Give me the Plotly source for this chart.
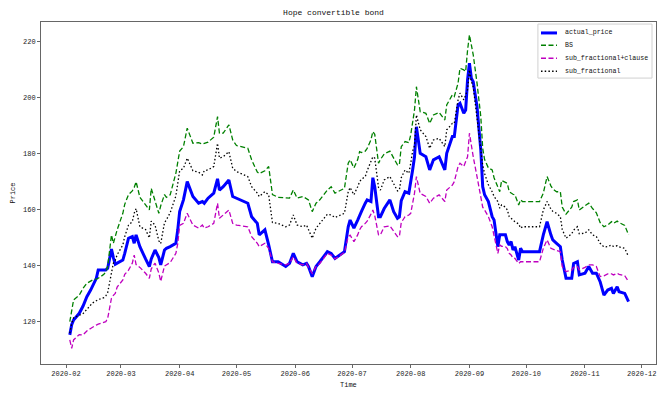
import plotly.graph_objects as go

title = "Hope convertible bond"
series_names = ["actual_price", "BS", "sub_fractional+clause", "sub_fractional"]

dates = [
    # Feb - Mar
    "2020-02-03", "2020-02-04", "2020-02-05", "2020-02-08", "2020-02-10", "2020-02-12", "2020-02-14",
    "2020-02-15", "2020-02-17", "2020-02-18", "2020-02-21", "2020-02-22", "2020-02-23", "2020-02-25",
    "2020-02-26", "2020-02-27", "2020-02-28", "2020-03-02", "2020-03-03", "2020-03-05", "2020-03-07",
    "2020-03-08", "2020-03-09", "2020-03-11", "2020-03-14", "2020-03-16", "2020-03-17", "2020-03-19",
    "2020-03-21", "2020-03-22", "2020-03-24", "2020-03-25", "2020-03-27", "2020-03-30", "2020-03-31",
    # Apr - Jun
    "2020-04-01", "2020-04-03", "2020-04-05", "2020-04-08", "2020-04-11", "2020-04-13", "2020-04-14",
    "2020-04-16", "2020-04-19", "2020-04-21", "2020-04-22", "2020-04-24", "2020-04-27", "2020-04-29",
    "2020-05-01", "2020-05-07", "2020-05-09", "2020-05-12", "2020-05-13", "2020-05-16", "2020-05-18",
    "2020-05-20", "2020-05-23", "2020-05-27", "2020-05-29", "2020-05-31", "2020-06-02", "2020-06-05",
    "2020-06-07", "2020-06-08", "2020-06-10", "2020-06-12", "2020-06-14", "2020-06-18", "2020-06-20",
    "2020-06-22", "2020-06-27", "2020-06-29", "2020-06-30",
    # Jul - early Sep
    "2020-07-02", "2020-07-04", "2020-07-05", "2020-07-06", "2020-07-08", "2020-07-09", "2020-07-11",
    "2020-07-12", "2020-07-13", "2020-07-15", "2020-07-16", "2020-07-18", "2020-07-21", "2020-07-23",
    "2020-07-25", "2020-07-26", "2020-07-27", "2020-07-29", "2020-07-31", "2020-08-01", "2020-08-02",
    "2020-08-03", "2020-08-04", "2020-08-06", "2020-08-09", "2020-08-11", "2020-08-13", "2020-08-16",
    "2020-08-19", "2020-08-20", "2020-08-23", "2020-08-24", "2020-08-26", "2020-08-27", "2020-08-29",
    "2020-08-30", "2020-08-31", "2020-09-01", "2020-09-02", "2020-09-03", "2020-09-05", "2020-09-07",
    # Sep - Nov
    "2020-09-08", "2020-09-09", "2020-09-11", "2020-09-13", "2020-09-14", "2020-09-16", "2020-09-17",
    "2020-09-18", "2020-09-20", "2020-09-21", "2020-09-22", "2020-09-23", "2020-09-24", "2020-09-25",
    "2020-09-27", "2020-09-28", "2020-09-29", "2020-10-03", "2020-10-08", "2020-10-10", "2020-10-12",
    "2020-10-14", "2020-10-15", "2020-10-17", "2020-10-19", "2020-10-20", "2020-10-22", "2020-10-25",
    "2020-10-26", "2020-10-28", "2020-10-29", "2020-11-01", "2020-11-03", "2020-11-05", "2020-11-07",
    "2020-11-09", "2020-11-11", "2020-11-13", "2020-11-15", "2020-11-16", "2020-11-18", "2020-11-19",
    "2020-11-22", "2020-11-24",
]

actual_price = [
    115.4, 119, 120.7, 123.1, 125.7, 129, 131.4, 132.9, 135.6, 138.6,
    138.5, 138.6, 139.2, 146, 143, 140.6, 141, 142.1, 144.5, 149.9,
    150.5, 148.1, 151.1, 146.9, 142.5, 139.8, 142.5, 145.7, 143, 140.4,
    145.7, 146.3, 146.9, 148.1, 152.9,
    159.4, 163.6, 170.1, 164.8, 162.4, 163, 162.4, 164.2, 166, 171.1,
    167.1, 168.3, 170.7, 164.8, 164.2, 162.4, 157.6, 155.2, 151.1, 152.9,
    147.5, 141.5, 141.5, 139.8, 140.9, 144.5, 141.5, 140.4, 140.9, 139.8,
    136.2, 139.8, 141.5, 145.1, 144.5, 142.7, 145.1, 154, 156.4,
    153.5, 156.4, 158.2, 159.5, 162.4, 163.6, 163, 171.5, 168.3, 157.6,
    157.6, 160.5, 163.6, 159.4, 157, 157.5, 163.3, 166.5, 166, 169.5,
    174.3, 179, 189.7, 180.2, 179, 174.3, 177.9, 179, 174.3, 180.2,
    186.2, 186.2, 197.5, 198.1, 194.5, 195.7, 206.4, 212.4, 207, 205.8,
    196.9, 181.4,
    168.3, 165.4, 163, 157.6, 156.4, 146.9, 151.1, 151.1, 151.1, 148.7,
    147.5, 148.7, 145.7, 146.9, 142.1, 146.3, 145.1, 145.1, 145.1, 151.1,
    155.8, 151.1, 149.3, 148.1, 146.9, 142.1, 135.6, 135.6, 140.9, 141.5,
    136.8, 137.4, 139.8, 137.4, 137.4, 134.4, 129.6, 131.4, 132, 130.2,
    132.6, 130.8, 130.2, 127.3,
]

bs = [
    120.1, 124.5, 127.9, 129.6, 132, 133.8, 134.5, 135, 135.3, 135.6,
    137, 138, 139.8, 151.1, 148.1, 150.5, 152.9, 158.8, 162, 165.5,
    166.8, 168, 170.1, 164.5, 162, 160, 167.7, 163.6, 158.8, 161.5,
    165.5, 164.5, 165.4, 173.1, 176.5,
    181, 182.6, 189.2, 183.8, 184, 183.5, 183.8, 184.2, 186, 193.3,
    187.4, 187.4, 190.4, 185, 183, 182, 177.9, 173.5, 173, 174,
    175.5, 165.5, 164.5, 164.2, 164.2, 167.1, 164.2, 164.8, 164, 163.6,
    159.4, 162.4, 163.6, 167.1, 168.3, 166, 167.7, 176.7, 177.9,
    175, 178, 180.8, 180.5, 181, 182, 185, 188, 187, 176.7,
    178, 180, 181, 178.5, 176.1, 176.1, 182.6, 184.4, 184, 186.8,
    190.9, 195.7, 204, 195.1, 194.5, 190.9, 193.9, 194.8, 192.1, 197.5,
    201.1, 200.5, 205.3, 210.6, 210, 209.4, 217, 222.5, 218.9, 215.4,
    205.3, 193.3,
    182, 178, 175, 174.3, 171.5, 168, 166.5, 170.5, 170, 169.5,
    166.5, 165.9, 165.6, 165.4, 161.8, 163.6, 163, 163, 163, 166,
    171.9, 168.6, 167.5, 166.5, 166.5, 161, 158.5, 161, 163, 163.6,
    160, 161.5, 162.4, 160.5, 159, 155.5, 154, 154.6, 155.8, 155.2,
    156, 155.5, 154.5, 151.1,
]

sub_fractional_clause = [
    113.6, 110.6, 113.6, 115.5, 115.4, 116.8, 117.7, 118.2, 118.9, 119.2,
    119.8, 120.1, 121.3, 128.5, 129.5, 130.2, 132.5, 135, 137, 138.5,
    141, 143.9, 140.5, 139.5, 137.4, 135.6, 139, 141, 137.5, 134.5,
    140, 140.4, 141.2, 144.5, 148,
    154.5, 155.2, 158.8, 154.6, 153.5, 154.6, 153.5, 154, 155.2, 162.4,
    157, 158.2, 160, 155.2, 154.6, 154, 150.5, 148.1, 146.9, 148.1,
    146.3, 141.5, 140.9, 140.4, 140.9, 143.3, 140.9, 140.4, 140.9, 139.5,
    137.4, 139.8, 140.9, 144.5, 143.9, 142.5, 144.8, 150.5, 151,
    148.7, 151.1, 152.9, 154, 155.2, 156, 158.5, 160, 158, 151.1,
    151.1, 154, 154.3, 152.3, 150.5, 150.5, 155.5, 157.6, 158.2, 158.8,
    162, 166, 171.9, 165.9, 164.8, 162.4, 164.2, 165.4, 163, 167.1,
    168.9, 170.1, 175.5, 176.7, 175.5, 177, 179, 187.4, 182.6, 179,
    171.9, 164.8,
    161, 160, 157.6, 154, 151.1, 144.5, 147.5, 147, 146.9, 146.2,
    144.5, 143.9, 142.9, 142.7, 140.9, 141.5, 141.5, 141.5, 141.5, 146.3,
    149.3, 146.3, 146, 145.5, 145.1, 139.8, 138, 138.5, 139.5, 139.8,
    138.6, 139.5, 140.4, 140.4, 139.8, 136.2, 136.5, 137.2, 137.2, 136.8,
    137.4, 137, 136.5, 134.4,
]

sub_fractional = [
    116, 119.5, 121.5, 122.5, 123, 124.5, 126.1, 126.8, 127.6, 128,
    128.7, 129.3, 130.5, 137, 141, 142, 144, 147.5, 150.5, 154.6,
    155.8, 158.8, 160.5, 154, 153, 150, 156, 154.6, 149, 148,
    155.5, 156.5, 159, 165, 169.5,
    174, 174.9, 178.5, 174, 173.5, 172.5, 174, 174.3, 175.5, 183.8,
    178.5, 179, 180.8, 174.9, 173.7, 171.9, 168.3, 166, 164.8, 166.5,
    165.4, 155.5, 155.2, 154, 154.6, 158.2, 154.6, 154, 154.6, 153,
    149.9, 153.5, 155.2, 158.5, 158.2, 157.3, 158.8, 166.5, 168,
    165.4, 168.3, 170.1, 171, 171.9, 174, 177, 179, 178.5, 168,
    167.1, 170.7, 171.9, 169.5, 166.8, 167.1, 171.5, 174.3, 173.1, 176.7,
    181, 183, 193.9, 188.6, 186.2, 182, 185, 185.6, 182.6, 188.6,
    190.9, 190.9, 199.3, 201.7, 199.3, 201, 202.9, 210, 205.8, 204,
    193.3, 182.6,
    176, 173, 169, 166.5, 164.8, 163, 160.6, 161.8, 161, 160,
    157.6, 157, 156.4, 155.8, 155, 153.5, 154, 154, 154, 160,
    163, 160.3, 159.5, 158.8, 157.6, 153, 149.9, 151.5, 152.8, 154,
    151.5, 151.7, 152.9, 151.1, 150.5, 148.1, 146.8, 146.9, 147.5, 147,
    147.2, 146.8, 146.3, 143.3,
]

y_ticks = [120, 140, 160, 180, 200, 220]

FONT = "Liberation Mono, DejaVu Sans Mono, monospace"

colors = ["#0000ff", "#008000", "#bf00bf", "#000000"]
widths = [3, 1.3, 1.3, 1.3]
dashes = ["solid", "5px,2.5px", "5px,2.5px", "1.5px,2.2px"]
values = [actual_price, bs, sub_fractional_clause, sub_fractional]

fig = go.Figure()
for name, vals, c, w, d in zip(series_names, values, colors, widths, dashes):
    fig.add_trace(go.Scatter(x=dates, y=vals, name=name, mode="lines",
                             line=dict(color=c, width=w, dash=d), showlegend=False))

# compact matplotlib-style legend (box, handles, labels) in the upper right corner
shapes = [dict(type="rect", xref="paper", yref="paper", x0=0.808, x1=0.9935, y0=0.836, y1=0.994,
               line=dict(color="#d0d0d0", width=1), fillcolor="rgba(255,255,255,0.85)", layer="above")]
annotations = []
row_y = [0.968, 0.932, 0.894, 0.856]
for name, c, w, d, ry in zip(series_names, colors, widths, dashes, row_y):
    shapes.append(dict(type="line", xref="paper", yref="paper", x0=0.813, x1=0.839, y0=ry, y1=ry,
                       line=dict(color=c, width=w, dash=d), layer="above"))
    annotations.append(dict(xref="paper", yref="paper", x=0.848, y=ry, xanchor="left", yanchor="middle",
                            text=name, showarrow=False,
                            font=dict(family=FONT, size=6.6, color="#111111")))

# x-axis title placed just below the tick labels, as in the reference
annotations.append(dict(xref="paper", yref="paper", x=0.5, y=-0.062, xanchor="center", yanchor="middle",
                        text="Time", showarrow=False,
                        font=dict(family=FONT, size=7, color="#111111")))

fig.update_layout(
    width=667, height=394,
    margin=dict(l=41, r=11, t=22, b=30),
    paper_bgcolor="white", plot_bgcolor="white",
    font=dict(family=FONT, size=7, color="#222222"),
    title=dict(text=title, x=0.5, xanchor="center", y=0.969, yanchor="middle",
               font=dict(family=FONT, size=8, color="#111111")),
    showlegend=False,
    shapes=shapes,
    annotations=annotations,
)
fig.update_xaxes(
    type="date", range=["2020-01-18 19:00", "2020-12-08 12:00"],
    dtick="M1", tick0="2020-02-01", tickformat="%Y-%m",
    showgrid=False, zeroline=False,
    showline=True, linecolor="#666666", linewidth=1, mirror=True,
    ticks="outside", ticklen=3, tickcolor="#666666",
    tickfont=dict(family=FONT, size=7, color="#222222"),
)
fig.update_yaxes(
    range=[105, 227.1], tickvals=y_ticks,
    showgrid=False, zeroline=False,
    showline=True, linecolor="#666666", linewidth=1, mirror=True,
    ticks="outside", ticklen=3, tickcolor="#666666",
    tickfont=dict(family=FONT, size=7, color="#222222"),
    title=dict(text="Price", font=dict(family=FONT, size=7, color="#111111"), standoff=6),
)

fig.write_html("out.html", config={"displayModeBar": False},
               post_script="document.body.style.margin='0';document.body.style.padding='0';")
